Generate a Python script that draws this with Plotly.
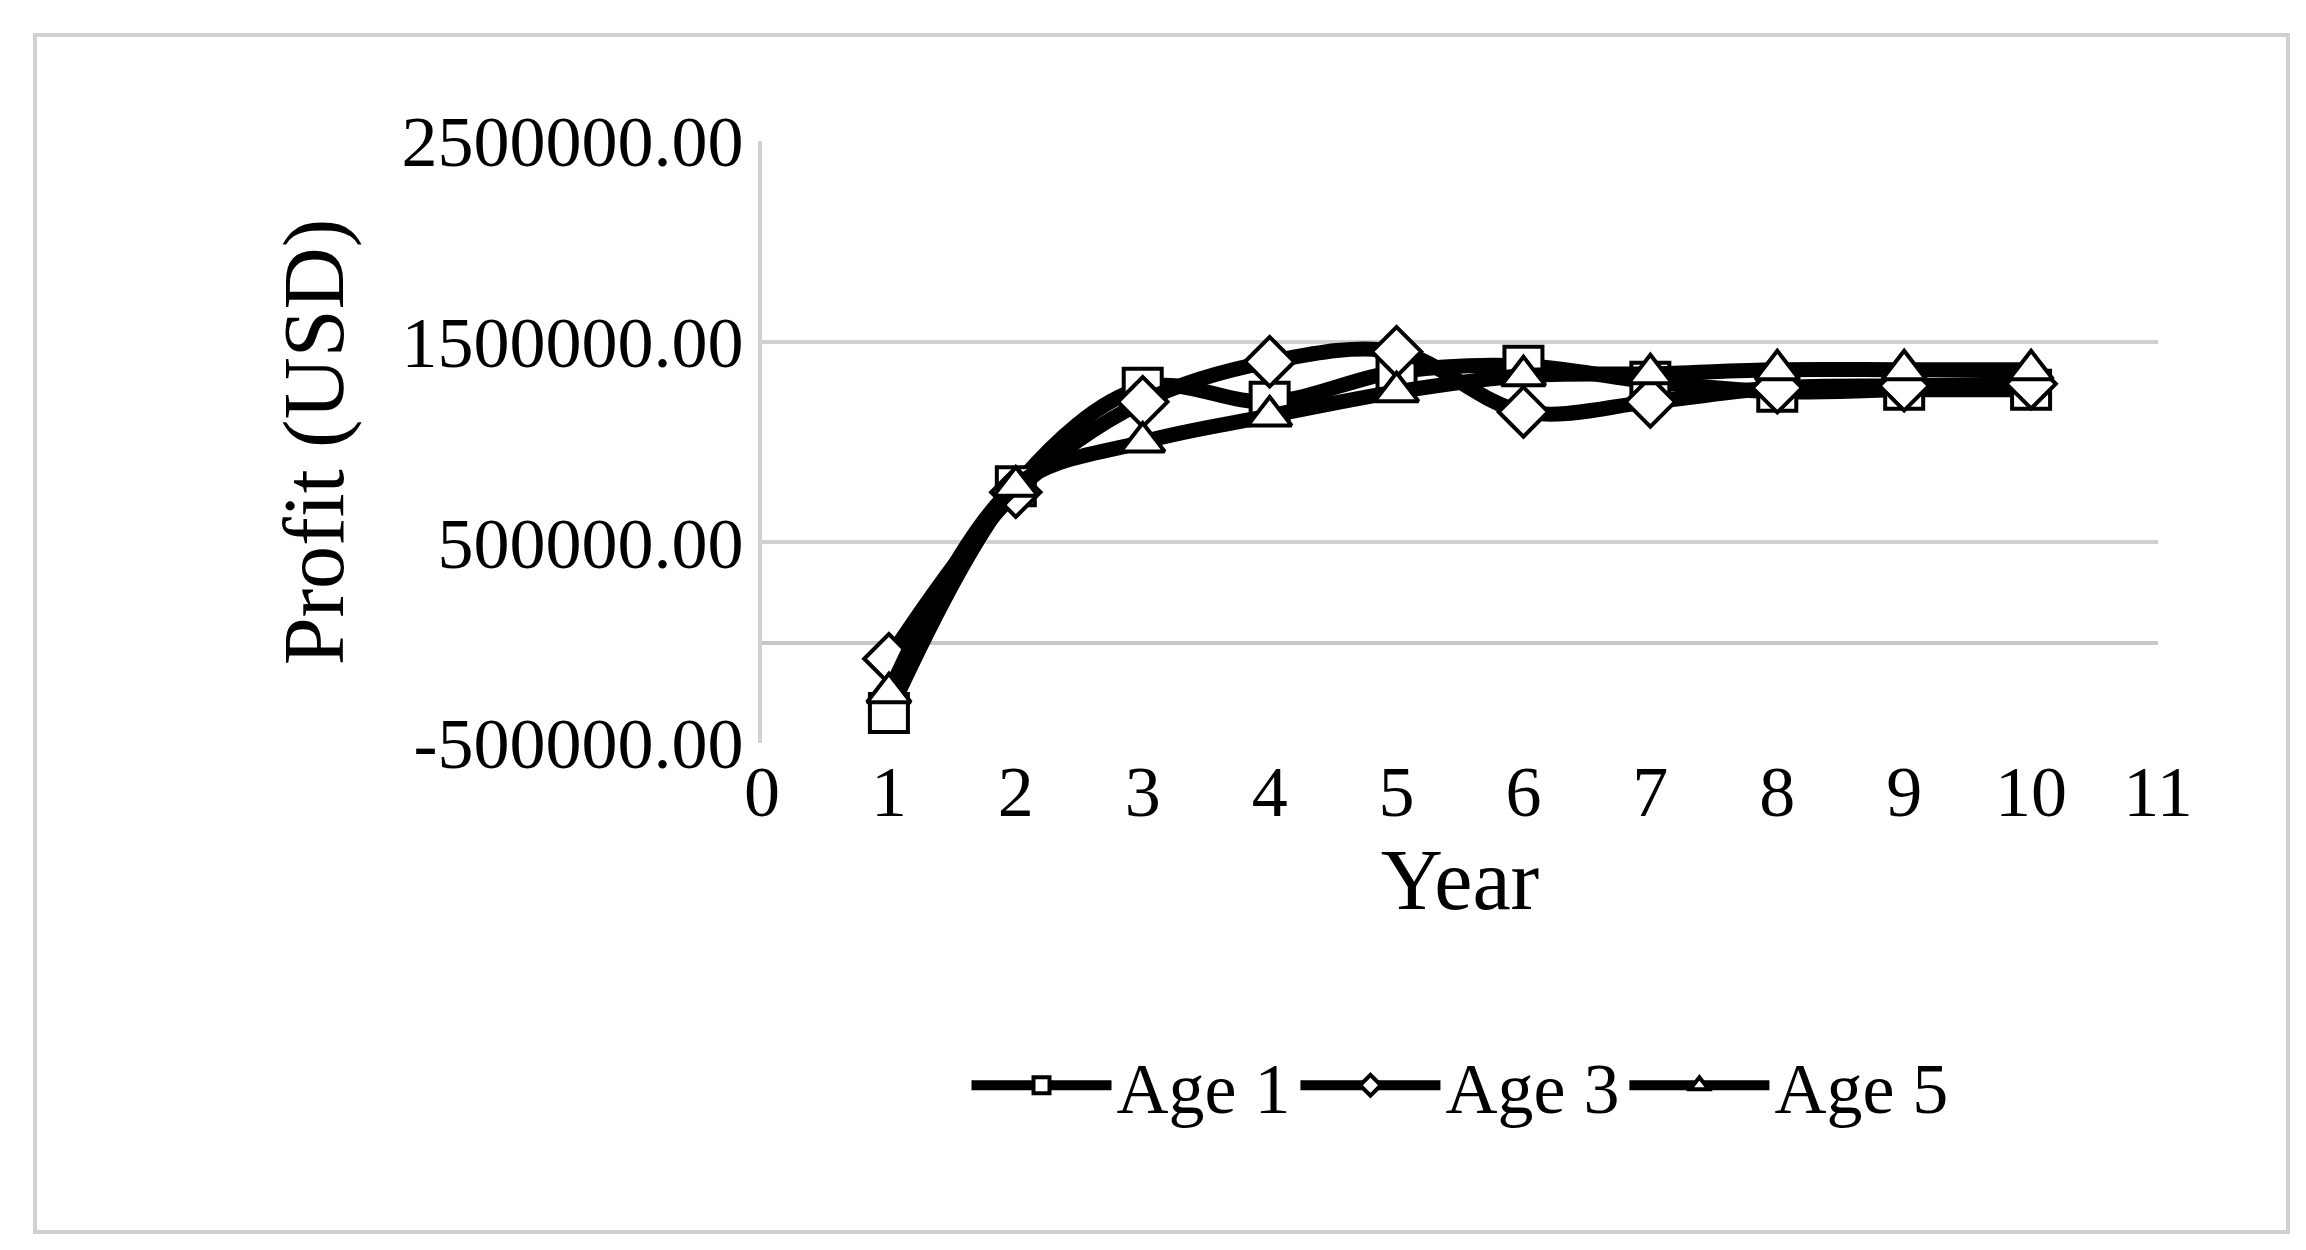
import plotly.graph_objects as go

years = [1, 2, 3, 4, 5, 6, 7, 8, 9, 10]
age1 = [-350000, 780000, 1270000, 1200000, 1350000, 1380000, 1300000, 1250000, 1260000, 1260000]
age3 = [-80000, 750000, 1200000, 1400000, 1450000, 1150000, 1200000, 1270000, 1280000, 1290000]
age5 = [-250000, 780000, 1000000, 1130000, 1250000, 1330000, 1340000, 1360000, 1360000, 1360000]
y_ticks = [-500000, 500000, 1500000, 2500000]
y_tick_labels = ["-500000.00", "500000.00", "1500000.00", "2500000.00"]

series = [("Age 1", age1, "square"), ("Age 3", age3, "diamond"), ("Age 5", age5, "triangle-up")]
FONT = "Liberation Serif"
fig = go.Figure()
for name, vals, sym in series:
    fig.add_trace(go.Scatter(
        x=years, y=vals, name=name, mode="lines+markers",
        line=dict(color="black", width=15, shape="spline", smoothing=1.0),
        marker=dict(symbol=sym, size=38, color="white",
                    line=dict(color="black", width=4)),
    ))

fig.update_layout(
    width=2306, height=1250, paper_bgcolor="white", plot_bgcolor="white",
    font=dict(family=FONT, size=72, color="black"),
    margin=dict(l=754, r=156, t=133, b=515),
    showlegend=True,
    legend=dict(orientation="h", x=0.5, xanchor="center", y=-0.48, yanchor="top",
                font=dict(size=72), itemwidth=140),
    xaxis=dict(range=[0, 11], dtick=1, tick0=0, showgrid=False, zeroline=False,
               showline=False, ticks="", title=dict(text="Year", standoff=5)),
    yaxis=dict(range=[-500000, 2500000], tickvals=y_ticks, ticktext=y_tick_labels,
               showgrid=True, gridcolor="#d0d0d0", gridwidth=4,
               zeroline=True, zerolinecolor="#c8c8c8", zerolinewidth=4,
               showline=True, linecolor="#d0d0d0", linewidth=4, ticks="",
               title=dict(text="Profit (USD)", standoff=30)),
    shapes=[dict(type="rect", xref="paper", yref="paper",
                 x0=-727/1396, x1=1.0 + 130/1396, y0=-(1224-735)/602, y1=1 + 106/602,
                 line=dict(color="#d0d0d0", width=4))],
)
fig.write_html("out.html")
